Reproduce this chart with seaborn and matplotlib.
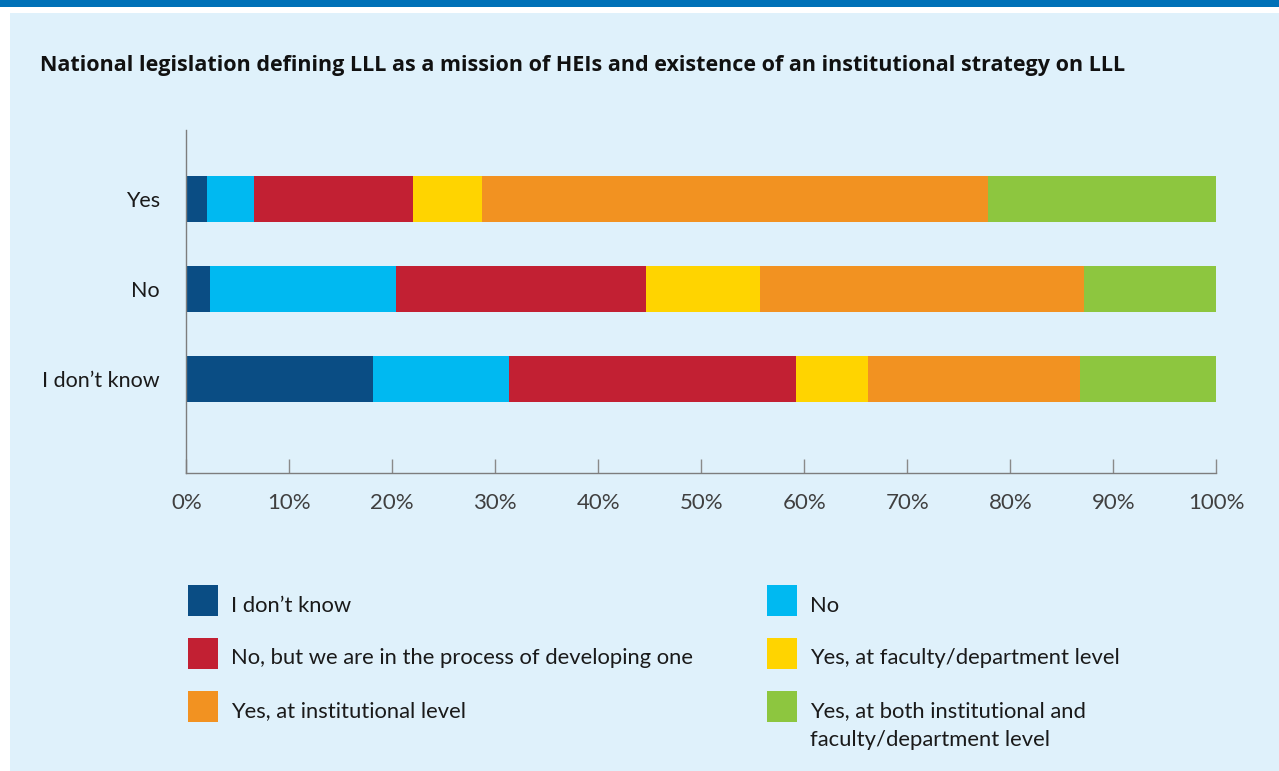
import matplotlib
matplotlib.use("Agg")
import matplotlib.pyplot as plt
from matplotlib.patches import Rectangle
import pandas as pd
import seaborn as sns

# Rows of the chart (national legislation answer)
groups = ["Yes", "No", "I don\u2019t know"]

# Institutional strategy answers (stack order, left to right)
responses = [
    "I don\u2019t know",
    "No",
    "No, but we are in the process of developing one",
    "Yes, at faculty/department level",
    "Yes, at institutional level",
    "Yes, at both institutional and\nfaculty/department level",
]
colors = ["#0a4d84", "#00b9f1", "#c22033", "#ffd400", "#f29221", "#8dc63f"]

# Shares in percent, one value per row (Yes, No, I don't know)
dont_know = [2.0, 2.3, 18.1]
no_strategy = [4.6, 18.1, 13.2]
developing = [15.4, 24.2, 27.9]
faculty_level = [6.7, 11.1, 7.0]
institutional_level = [49.1, 31.5, 20.6]
both_levels = [22.2, 12.8, 13.2]

xticks = list(range(0, 101, 10))
xtick_labels = [f"{v}%" for v in xticks]

title = ("National legislation defining LLL as a mission of HEIs and "
         "existence of an institutional strategy on LLL")

sns.set_style("white")
plt.rcParams["font.family"] = ["Lato", "DejaVu Sans"]

W, H = 1279, 771
fig = plt.figure(figsize=(W / 100, H / 100), dpi=100, facecolor="white")

# Light blue panel and the dark blue band on top (behind the axes)
fig.patches.append(Rectangle((10 / W, 0), 1 - 10 / W, (H - 13) / H,
                             transform=fig.transFigure, facecolor="#dff1fb",
                             edgecolor="none", zorder=-2))
fig.patches.append(Rectangle((0, 1 - 7 / H), 1, 7 / H,
                             transform=fig.transFigure, facecolor="#0071b7",
                             edgecolor="none", zorder=-2))

left_px, right_px, top_px, bottom_px = 186.3, 1216.3, 130, 473.3
ax = fig.add_axes([left_px / W, 1 - bottom_px / H,
                   (right_px - left_px) / W, (bottom_px - top_px) / H])
ax.set_facecolor("none")

df = pd.DataFrame({
    "group": groups,
    responses[0]: dont_know,
    responses[1]: no_strategy,
    responses[2]: developing,
    responses[3]: faculty_level,
    responses[4]: institutional_level,
    responses[5]: both_levels,
})
cum = df[responses].cumsum(axis=1)

# Stacked bars: draw cumulative totals from the longest down
for resp, col in reversed(list(zip(responses, colors))):
    sns.barplot(x=cum[resp], y=df["group"], order=groups, color=col,
                saturation=1, width=0.511, orient="h", errorbar=None,
                linewidth=0, ax=ax)

ax.set_xlim(0, 100)
ax.set_ylim(3.048, -0.767)
ax.set_xlabel("")
ax.set_ylabel("")

ax.set_xticks(xticks)
ax.set_xticklabels(xtick_labels, fontsize=16, color="#404040", fontweight="normal")
ax.tick_params(axis="x", bottom=True, direction="in", length=10, width=1.0,
               color="#8a8a8a", pad=14)
ax.tick_params(axis="y", left=False, length=0, pad=19, labelsize=15.5,
               labelcolor="#1a1a1a")

for side in ("top", "right"):
    ax.spines[side].set_visible(False)
for side in ("left", "bottom"):
    ax.spines[side].set_color("#7d7d7d")
    ax.spines[side].set_linewidth(1.0)

fig.text(40 / W, 1 - 65 / H, title, fontsize=15.5, fontweight="bold",
         family=["Open Sans", "DejaVu Sans"],
         color="#111111", ha="left", va="center")

# Legend in two columns, filled row by row; text baseline of the last line
col_x = [188, 767]
row_y = [600.5, 653.5, 706.5]
sq_w, sq_h = 30, 31
line_px = 29
for i, (resp, col) in enumerate(zip(responses, colors)):
    cx = col_x[i % 2]
    cy = row_y[i // 2]
    fig.patches.append(Rectangle((cx / W, 1 - (cy + sq_h / 2) / H), sq_w / W, sq_h / H,
                                 transform=fig.transFigure, facecolor=col,
                                 edgecolor="none", zorder=2))
    extra = resp.count("\n") * line_px
    fig.text((cx + 43) / W, 1 - (cy + 11 + extra) / H, resp, fontsize=15.8,
             color="#1a1a1a", ha="left", va="baseline", linespacing=1.58)

fig.savefig("out.png", dpi=100, facecolor="white")
